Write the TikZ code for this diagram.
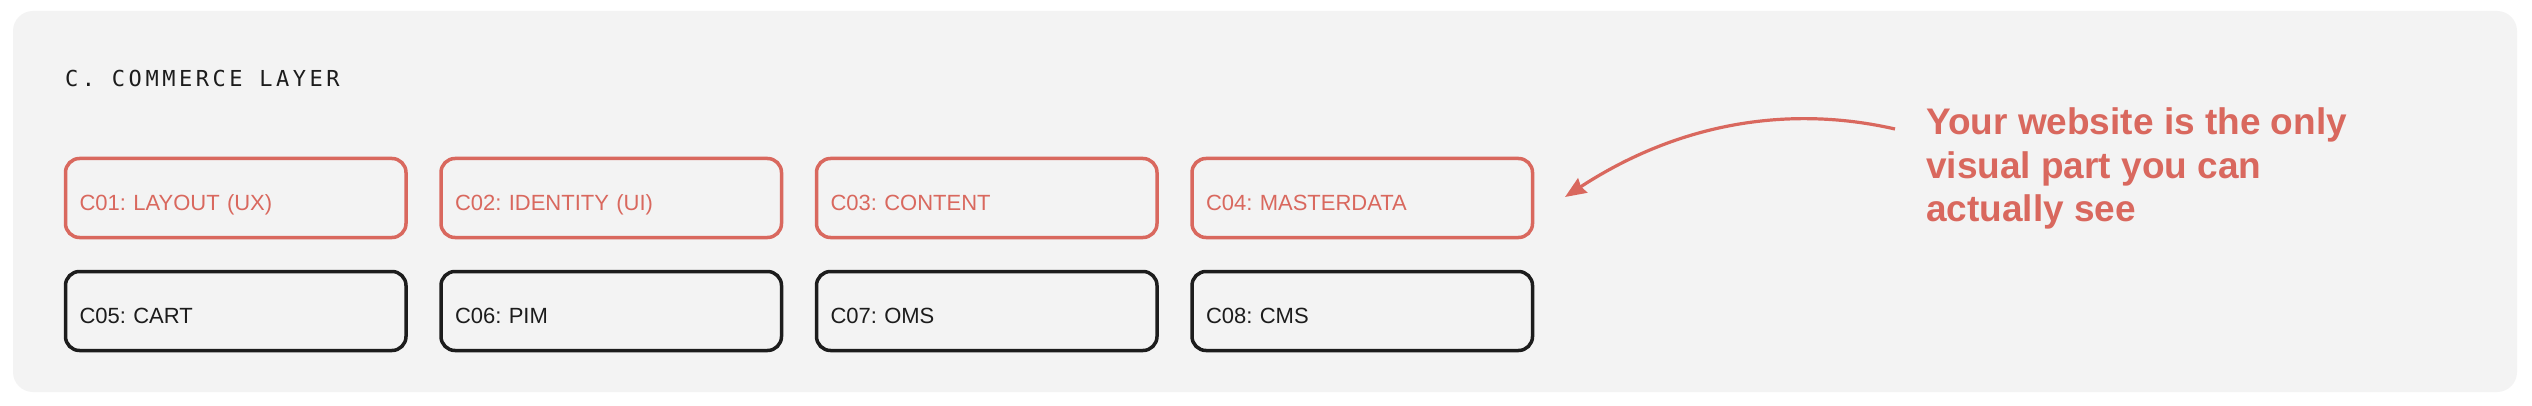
\documentclass[tikz,border=0pt]{standalone}
\usepackage{fontspec}
\setmainfont{Liberation Sans}
\newfontfamily\titlefont{DejaVu Sans Mono}[LetterSpace=16]
\usetikzlibrary{arrows.meta}
\definecolor{panelbg}{HTML}{F3F3F3}
\definecolor{accent}{HTML}{D9685E}
\definecolor{ink}{HTML}{1C1C1C}
\frenchspacing
\begin{document}
\begin{tikzpicture}[x=1pt,y=-1pt,
  cbox/.style={draw, rounded corners=14pt, line width=3.5pt, minimum width=340.5pt,
    minimum height=79pt, text width=312.5pt, align=left, inner xsep=14pt, inner ysep=0pt,
    text height=25pt, text depth=0pt, font=\fontsize{22}{26}\selectfont, anchor=north west},
  redbox/.style={cbox, draw=accent, text=accent},
  blackbox/.style={cbox, draw=ink, text=ink},
  note/.style={font=\bfseries\fontsize{37}{43.5}\selectfont, text=accent, align=left, inner sep=0pt}
]
\useasboundingbox (0,0) rectangle (2532,406);
\fill[white] (0,0) rectangle (2532,406);
\fill[panelbg, rounded corners=20pt] (13,11) rectangle (2517,392);

\node[anchor=base west, inner sep=0pt, text=ink, font=\titlefont\fontsize{22}{26}\selectfont] (title) at (65,87) {C. COMMERCE LAYER};

\node[redbox] (c01) at (63.75,156.75) {C01: LAYOUT (UX)};
\node[redbox] (c02) at (439.25,156.75) {C02: IDENTITY (UI)};
\node[redbox] (c03) at (814.75,156.75) {C03: CONTENT};
\node[redbox] (c04) at (1190.25,156.75) {C04: MASTERDATA};

\node[blackbox] (c05) at (63.75,269.75) {C05: CART};
\node[blackbox] (c06) at (439.25,269.75) {C06: PIM};
\node[blackbox] (c07) at (814.75,269.75) {C07: OMS};
\node[blackbox] (c08) at (1190.25,269.75) {C08: CMS};

\node[note, anchor=base west] (note) at (1926,222) {Your website is the only\\visual part you can\\actually see};

\coordinate (arrowstart) at (1895,129);
\coordinate (arrowend) at (1565,197);
\draw[accent, line width=3.2pt, -{Stealth[length=21pt,width=17pt,inset=2pt]}]
  (arrowstart) .. controls (1790,105) and (1680,122) .. (arrowend);
\end{tikzpicture}
\end{document}
